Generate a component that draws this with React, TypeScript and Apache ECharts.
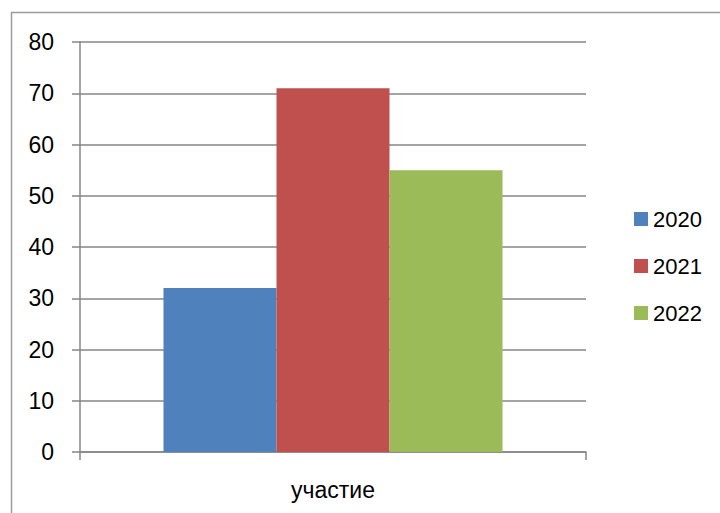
import React, { useEffect, useRef } from "react";
import * as echarts from "echarts";

const categories = ["участие"];
const seriesNames = ["2020", "2021", "2022"];
const values2020 = [32];
const values2021 = [71];
const values2022 = [55];
const colors = ["#4F81BD", "#C0504D", "#9BBB59"];

export default function App() {
  const ref = useRef<HTMLDivElement>(null);
  useEffect(() => {
    if (!ref.current) return;
    const chart = echarts.init(ref.current, undefined, { renderer: "svg" });
    const font = "Liberation Sans";
    const allValues = [values2020, values2021, values2022];
    chart.setOption({
      animation: false,
      backgroundColor: "#ffffff",
      textStyle: { fontFamily: font },
      graphic: [
        {
          type: "rect",
          shape: { x: 11.5, y: 12.5, width: 800, height: 600 },
          style: { fill: "none", stroke: "#9a9a9a", lineWidth: 1.5 },
          silent: true,
        },
      ],
      grid: { left: 80, right: 134, top: 42, bottom: 61, containLabel: false },
      legend: {
        orient: "vertical",
        left: 629,
        top: 203,
        itemWidth: 14,
        itemHeight: 14,
        itemGap: 25,
        icon: "rect",
        data: seriesNames,
        textStyle: {
          fontFamily: font,
          fontSize: 22,
          color: "#000",
        },
      },
      xAxis: {
        type: "category",
        data: categories,
        axisLine: { show: true, lineStyle: { color: "#868686", width: 1.5 } },
        axisTick: { show: true, length: 8, alignWithLabel: false, lineStyle: { color: "#868686", width: 1.5 } },
        axisLabel: { fontFamily: font, fontSize: 23, color: "#000", margin: 26 },
        splitLine: { show: false },
      },
      yAxis: {
        type: "value",
        min: 0,
        max: 80,
        interval: 10,
        axisLine: { show: true, lineStyle: { color: "#868686", width: 1.5 } },
        axisTick: { show: true, length: 8, lineStyle: { color: "#868686", width: 1.5 } },
        axisLabel: { fontFamily: font, fontSize: 23, color: "#000", margin: 26 },
        splitLine: { show: true, lineStyle: { color: "#868686", width: 1.5 } },
      },
      series: seriesNames.map((name, i) => ({
        name,
        type: "bar",
        data: allValues[i],
        itemStyle: { color: colors[i] },
        barGap: "0%",
        barCategoryGap: "33%",
      })),
    });
    return () => chart.dispose();
  }, []);
  return (
    <div
      ref={ref}
      style={{ position: "fixed", left: 0, top: 0, width: 720, height: 513 }}
    />
  );
}
